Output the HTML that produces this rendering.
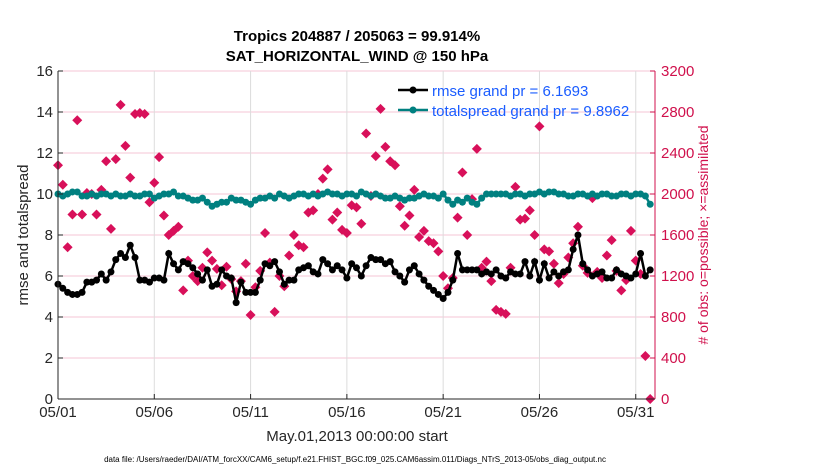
<!DOCTYPE html>
<html><head><meta charset="utf-8"><style>
body{margin:0;background:#fff;font-family:"Liberation Sans",sans-serif}
</style></head><body>
<svg id="chart" width="830" height="470" xmlns="http://www.w3.org/2000/svg" font-family="Liberation Sans, sans-serif">
<text x="357" y="41" text-anchor="middle" font-size="15" font-weight="bold">Tropics 204887 / 205063 = 99.914%</text>
<text x="357" y="61" text-anchor="middle" font-size="15" font-weight="bold">SAT_HORIZONTAL_WIND @ 150 hPa</text>
<g id="grid"></g><g id="marks"></g><g id="axes"></g>
<text x="357" y="441" text-anchor="middle" font-size="15" fill="#262626">May.01,2013 00:00:00 start</text>
<text transform="translate(28,235) rotate(-90)" text-anchor="middle" font-size="15" fill="#262626">rmse and totalspread</text>
<text transform="translate(708,235) rotate(-90)" text-anchor="middle" font-size="14" fill="#d0104c"># of obs: o=possible; ×=assimilated</text>
<text x="355" y="462" text-anchor="middle" font-size="8">data file: /Users/raeder/DAI/ATM_forcXX/CAM6_setup/f.e21.FHIST_BGC.f09_025.CAM6assim.011/Diags_NTrS_2013-05/obs_diag_output.nc</text>
<g>
<line x1="398" y1="90" x2="428" y2="90" stroke="#000" stroke-width="2.5"/><circle cx="413" cy="90" r="3.5"/>
<text x="432" y="96" font-size="15" fill="#1a5cff">rmse grand pr = 6.1693</text>
<line x1="398" y1="110" x2="428" y2="110" stroke="#008080" stroke-width="2.5"/><circle cx="413" cy="110" r="3.5" fill="#008080"/>
<text x="432" y="116" font-size="15" fill="#1a5cff">totalspread grand pr = 9.8962</text>
</g>
</svg>
<script>
const rmse=[5.6,5.4,5.2,5.1,5.1,5.2,5.7,5.7,5.8,6.1,5.8,6.2,6.8,7.1,6.9,7.5,6.9,5.8,5.8,5.7,5.9,5.9,5.8,7.1,6.6,6.3,6.7,6.6,6.4,6.1,5.8,6.3,5.5,5.6,6.3,6.0,5.9,4.7,5.7,5.2,5.2,5.2,5.8,6.6,6.5,6.7,6.2,5.6,5.8,5.8,6.3,6.4,6.5,6.2,6.1,6.8,6.6,6.3,6.5,6.3,5.9,6.6,6.4,6.0,6.5,6.9,6.8,6.8,6.6,6.7,6.2,6.0,5.7,6.3,6.5,6.1,5.8,5.5,5.3,5.1,4.9,5.2,5.8,7.1,6.3,6.3,6.3,6.3,6.1,6.2,6.1,6.3,6.0,5.9,6.2,6.1,6.1,6.7,6.0,6.7,5.8,6.6,5.9,6.2,6.0,6.2,6.3,7.3,8.0,6.6,6.3,6.0,6.1,6.2,5.9,5.9,6.3,6.1,6.0,5.9,6.1,7.1,6.0,6.3];
const spread=[10.0,9.9,10.0,10.1,10.1,9.9,9.9,10.0,9.9,10.0,10.0,9.9,10.0,9.9,9.9,10.0,9.9,9.9,10.0,10.0,9.8,9.9,10.0,10.0,10.1,9.9,9.9,9.8,9.7,9.7,9.8,9.6,9.4,9.5,9.6,9.6,9.8,9.7,9.7,9.6,9.5,9.7,9.8,9.8,9.9,9.8,10.0,9.9,9.8,9.9,10.0,10.0,9.9,10.0,9.9,10.0,10.1,10.0,10.0,9.9,10.0,10.0,9.9,10.1,10.0,9.9,10.0,9.9,9.8,9.8,9.9,9.8,9.7,9.8,9.8,9.9,10.0,9.9,9.9,9.8,10.0,9.7,9.5,9.7,9.6,9.8,9.6,9.5,9.8,10.0,10.0,10.0,10.0,10.0,9.9,10.0,10.0,9.9,10.0,10.0,10.1,10.0,10.1,10.1,10.0,10.0,9.9,9.9,10.0,10.0,9.9,10.0,9.9,10.0,10.0,9.9,9.9,10.0,10.0,9.9,10.0,10.0,9.9,9.5];
const obs=[2280,2090,1480,1800,2720,1800,2010,2000,1800,2040,2320,1660,2340,2870,2470,2160,2780,2790,2780,1920,2110,2360,1790,1600,1640,1680,1060,1350,1200,1150,1280,1430,1350,1270,1110,1290,1170,1050,1150,1320,820,1090,1250,1620,1330,850,1200,1100,1400,1600,1500,1480,1820,1840,2000,2150,2240,1750,1820,1650,1620,1890,1870,1710,2590,1980,2370,2830,2460,2320,2280,1880,1690,1790,2040,1580,1640,1540,1520,1440,1200,1080,1180,1770,2210,1600,1950,2440,1280,1340,1150,870,850,830,1280,2070,1750,1760,1840,1600,2660,1460,1440,1320,1130,1220,1380,1520,1680,1300,1230,1960,1240,1180,1400,1550,1250,1060,1160,1640,1350,1220,420,0];
const yTicks=[0,2,4,6,8,10,12,14,16];
const rTicks=[0,400,800,1200,1600,2000,2400,2800,3200];
const xTickLabels=["05/01","05/06","05/11","05/16","05/21","05/26","05/31"];
const xTickDays=[0,5,10,15,20,25,30];
const X0=58,X1=655,Y0=399,Y1=71;
const xs=d=>X0+(X1-X0)*d/31, ys=v=>Y0-(Y0-Y1)*v/16, yr=v=>Y0-(Y0-Y1)*v/3200;
const NS="http://www.w3.org/2000/svg";
function mk(t,a,p){const e=document.createElementNS(NS,t);for(const k in a)e.setAttribute(k,a[k]);p.appendChild(e);return e;}
const G=document.getElementById('grid'),M=document.getElementById('marks'),A=document.getElementById('axes');
yTicks.forEach(v=>{const l=mk('line',{x1:X0,x2:X1,y1:ys(v),y2:ys(v),stroke:'#f5c6d6','stroke-width':1},G);

});
xTickDays.forEach((d,i)=>{const l=mk('line',{x1:xs(d),x2:xs(d),y1:Y1,y2:Y0,stroke:'#dcdcdc','stroke-width':1},G);


const t=mk('text',{x:xs(d),y:Y0+18,'text-anchor':'middle','font-size':15,fill:'#262626'},A);t.textContent=xTickLabels[i];


mk('line',{x1:xs(d),x2:xs(d),y1:Y0,y2:Y0-5,stroke:'#262626'},A);});
yTicks.forEach(v=>{const t=mk('text',{x:X0-5,y:ys(v)+5,'text-anchor':'end','font-size':15,fill:'#262626'},A);t.textContent=v;


mk('line',{x1:X0,x2:X0+5,y1:ys(v),y2:ys(v),stroke:'#262626'},A);});
rTicks.forEach(v=>{const t=mk('text',{x:X1+6,y:yr(v)+5,'font-size':15,fill:'#d0104c'},A);t.textContent=v;


mk('line',{x1:X1,x2:X1-5,y1:yr(v),y2:yr(v),stroke:'#d0104c'},A);});
mk('line',{x1:X0,x2:X0,y1:Y1,y2:Y0,stroke:'#262626'},A);
mk('line',{x1:X0,x2:X1,y1:Y0,y2:Y0,stroke:'#262626'},A);
mk('line',{x1:X1,x2:X1,y1:Y1,y2:Y0,stroke:'#d0104c'},A);
obs.forEach((v,i)=>{const x=xs(i/4),y=yr(v);const p=mk('path',{d:`M${x-5},${y}L${x},${y-5}L${x+5},${y}L${x},${y+5}Z`,fill:'#d8105a'},M);

});
function series(arr,col,name){const pl=mk('polyline',{points:arr.map((v,i)=>xs(i/4)+','+ys(v)).join(' '),fill:'none',stroke:col,'stroke-width':2.5},M);


arr.forEach((v,i)=>{const c=mk('circle',{cx:xs(i/4),cy:ys(v),r:3.5,fill:col},M);

});}
series(spread,'#008080','totalspread');
series(rmse,'#000000','rmse');
</script>
</body></html>
